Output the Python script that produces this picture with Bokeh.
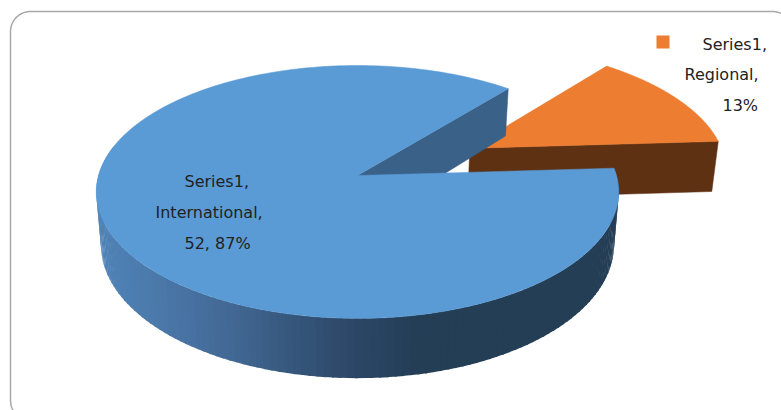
import numpy as np
from bokeh.core.properties import value
from bokeh.embed import file_html
from bokeh.models import Range1d
from bokeh.plotting import figure
from bokeh.resources import INLINE

categories = ["International", "Regional"]
shares = [87, 13]
label_lines = [
    ("Series1,", 184, 181), ("International,", 155, 212), ("52, 87%", 184, 243),
    ("Series1,", 702, 44), ("Regional,", 684, 74), ("13%", 722, 105),
]

WIDTH, HEIGHT = 781, 410
CX, CY, RX, RY, TILT = 357.0, 175.0, 259.0, 124.3, 0.13
START_DEG = 3.4
EXPLODE = 0.5
DEPTH = 52.0
BASE_SCALE = 0.982

SIDE_X = [96, 150, 220, 290, 350, 420, 620]
SIDE_R = [80, 76, 68, 55, 45, 36, 36]
SIDE_G = [132, 122, 107, 88, 72, 62, 62]
SIDE_B = [184, 172, 152, 125, 104, 86, 86]


def project(u, v, base=False):
    """Map a point of the unit disc onto the page with a one-point perspective."""
    w = 1 + TILT * v
    x = CX + RX * u / w
    y = CY - RY * v / w
    if base:
        x = CX + (x - CX) * BASE_SCALE
        y = y + DEPTH / w
    return x, y


def rim(theta_deg, du=0.0, dv=0.0, base=False):
    t = np.radians(theta_deg)
    return project(np.cos(t) + du, np.sin(t) + dv, base)


def wedge_outline(a0, a1, du=0.0, dv=0.0):
    th = np.linspace(a0, a1, 240)
    xs, ys = rim(th, du, dv)
    ax, ay = project(du, dv)
    return np.r_[ax, xs], np.r_[ay, ys]


def rounded_frame(x0, y0, x1, y1, r):
    arc = np.linspace(0, np.pi / 2, 24)
    xs = np.r_[x0 + r - r * np.cos(arc), x1 - r + r * np.sin(arc),
               x1 - r + r * np.cos(arc), x0 + r - r * np.sin(arc)]
    ys = np.r_[y0 + r - r * np.sin(arc), y0 + r - r * np.cos(arc),
               y1 - r + r * np.sin(arc), y1 - r + r * np.cos(arc)]
    return np.r_[xs, xs[0]], np.r_[ys, ys[0]]


regional_span = 360 * shares[1] / sum(shares)
international_span = 360 * shares[0] / sum(shares)
reg_start = START_DEG
reg_end = START_DEG + regional_span
intl_end = reg_end + international_span

mid = np.radians((reg_start + reg_end) / 2)
du, dv = EXPLODE * np.cos(mid), EXPLODE * np.sin(mid)

p = figure(width=WIDTH, height=HEIGHT, output_backend="svg", toolbar_location=None,
           x_range=Range1d(0, WIDTH), y_range=Range1d(HEIGHT, 0),
           min_border=0, outline_line_color=None, background_fill_color="white",
           border_fill_color="white")
p.axis.visible = False
p.grid.visible = False

# Chart frame
fx, fy = rounded_frame(10, 11, 792, 420, 20)
p.line(fx, fy, line_color="#a8a8a8", line_width=1.5)

# Regional slice: the cut face towards the viewer, then its top
ax, ay = project(du, dv)
ex, ey = rim(reg_start, du, dv)
bx0, by0 = project(du, dv, True)
bx1, by1 = rim(reg_start, du, dv, True)
p.patch([ax, ex, bx1, bx0], [ay, ey, by1, by0], fill_color="#5f3113", line_color="#5f3113", line_width=0.5)
ox, oy = wedge_outline(reg_start, reg_end, du, dv)
p.patch(ox, oy, fill_color="#ed7d31", line_color="#ed7d31", line_width=0.5)

# International slice: inner cut face
ax, ay = project(0, 0)
ex, ey = rim(reg_end)
bx0, by0 = project(0, 0, True)
bx1, by1 = rim(reg_end, base=True)
p.patch([ax, ex, bx1, bx0], [ay, ey, by1, by0], fill_color="#3a6188", line_color="#3a6188", line_width=0.5)

# International slice: curved wall, shaded from light on the left to dark on the right
edges = np.linspace(165, intl_end, 130)
for a0, a1 in zip(edges[:-1], edges[1:]):
    th = np.array([a0, a1 + 0.4])
    tx, ty = rim(th)
    bx, by = rim(th, base=True)
    xm = tx.mean()
    col = "#%02x%02x%02x" % (int(np.interp(xm, SIDE_X, SIDE_R)),
                             int(np.interp(xm, SIDE_X, SIDE_G)),
                             int(np.interp(xm, SIDE_X, SIDE_B)))
    p.patch(np.r_[tx, bx[::-1]], np.r_[ty, by[::-1]], fill_color=col, line_color=None)

# International slice: top
ox, oy = wedge_outline(reg_end, intl_end, 0, 0)
p.patch(ox, oy, fill_color="#5b9bd5", line_color="#5b9bd5", line_width=0.5)

# Legend key and data labels
p.rect([662.5], [41.5], width=13, height=13, fill_color="#ed7d31", line_color=None)
p.text([t[1] for t in label_lines], [t[2] for t in label_lines], text=[t[0] for t in label_lines],
       text_font=value("DejaVu Sans"), text_font_size="16px", text_color="#222222",
       text_align="left", text_baseline="middle")

open("out.html", "w").write(file_html(p, INLINE))
